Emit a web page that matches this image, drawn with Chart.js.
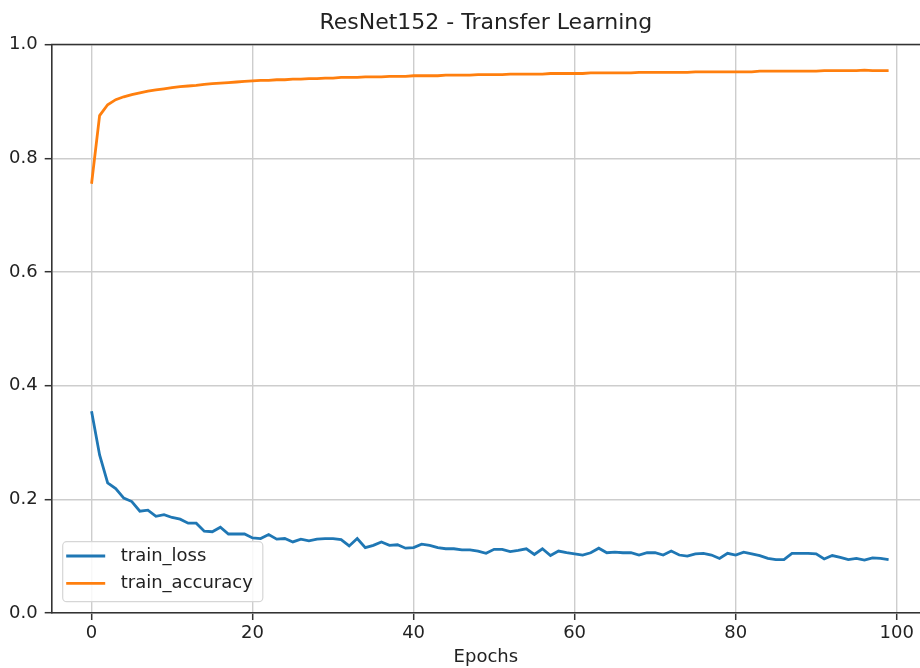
<!DOCTYPE html>
<html lang="en">
<head>
<meta charset="UTF-8">
<title>ResNet152 - Transfer Learning</title>
<style>
  html, body { margin: 0; padding: 0; background: #fff; }
  #wrap { width: 920px; height: 668px; }
</style>
</head>
<body>
<div id="wrap"><canvas id="chart" width="920" height="668"></canvas></div>
<script src="https://cdn.jsdelivr.net/npm/chart.js@4.4.1/dist/chart.umd.min.js"></script>
<script>
// values
var chartTitle = "ResNet152 - Transfer Learning";
var xTitle = "Epochs";
var xTicks = [0, 20, 40, 60, 80, 100];
var yTicks = [0.0, 0.2, 0.4, 0.6, 0.8, 1.0];

var trainLoss = [
  0.355, 0.278, 0.229, 0.219, 0.202, 0.196, 0.179, 0.181, 0.170, 0.173,
  0.168, 0.165, 0.158, 0.158, 0.144, 0.143, 0.151, 0.139, 0.139, 0.139,
  0.132, 0.131, 0.138, 0.130, 0.131, 0.125, 0.130, 0.127, 0.130, 0.131,
  0.131, 0.129, 0.118, 0.131, 0.115, 0.119, 0.125, 0.119, 0.120, 0.114,
  0.115, 0.121, 0.119, 0.115, 0.113, 0.113, 0.111, 0.111, 0.109, 0.105,
  0.112, 0.112, 0.108, 0.110, 0.113, 0.103, 0.113, 0.101, 0.109, 0.106,
  0.104, 0.102, 0.106, 0.114, 0.106, 0.107, 0.106, 0.106, 0.102, 0.106,
  0.106, 0.102, 0.109, 0.102, 0.100, 0.104, 0.105, 0.102, 0.096, 0.105,
  0.102, 0.107, 0.104, 0.101, 0.096, 0.094, 0.094, 0.105, 0.105, 0.105,
  0.104, 0.095, 0.101, 0.098, 0.094, 0.096, 0.093, 0.097, 0.096, 0.094
];

var trainAccuracy = [
  0.755, 0.875, 0.894, 0.903, 0.908, 0.912, 0.915, 0.918, 0.920, 0.922,
  0.924, 0.926, 0.927, 0.928, 0.930, 0.931, 0.932, 0.933, 0.934, 0.935,
  0.936, 0.937, 0.937, 0.938, 0.938, 0.939, 0.939, 0.940, 0.940, 0.941,
  0.941, 0.942, 0.942, 0.942, 0.943, 0.943, 0.943, 0.944, 0.944, 0.944,
  0.945, 0.945, 0.945, 0.945, 0.946, 0.946, 0.946, 0.946, 0.947, 0.947,
  0.947, 0.947, 0.948, 0.948, 0.948, 0.948, 0.948, 0.949, 0.949, 0.949,
  0.949, 0.949, 0.950, 0.950, 0.950, 0.950, 0.950, 0.950, 0.951, 0.951,
  0.951, 0.951, 0.951, 0.951, 0.951, 0.952, 0.952, 0.952, 0.952, 0.952,
  0.952, 0.952, 0.952, 0.953, 0.953, 0.953, 0.953, 0.953, 0.953, 0.953,
  0.953, 0.954, 0.954, 0.954, 0.954, 0.954, 0.955, 0.954, 0.954, 0.954
];

var epochs = trainLoss.map(function (v, i) { return i; });

var FONT = "'DejaVu Sans', sans-serif";
var textColor = "#222";
var spineColor = "#333";
var gridColor = "#cdcdcd";

function toPoints(values) {
  return values.map(function (v, i) { return { x: epochs[i], y: v }; });
}

// matplotlib-ish top spine
var topSpine = {
  id: "topSpine",
  afterDraw: function (chart) {
    var a = chart.chartArea, ctx = chart.ctx;
    ctx.save();
    ctx.strokeStyle = spineColor;
    ctx.lineWidth = 1.6;
    ctx.beginPath();
    ctx.moveTo(a.left - 0.8, a.top);
    ctx.lineTo(a.right, a.top);
    ctx.stroke();
    ctx.restore();
  }
};

// legend box inside the plot, lower left
var innerLegend = {
  id: "innerLegend",
  afterDraw: function (chart) {
    var a = chart.chartArea, ctx = chart.ctx;
    var sets = chart.data.datasets;
    ctx.save();
    ctx.font = "18px " + FONT;
    var maxW = 0;
    sets.forEach(function (d) { maxW = Math.max(maxW, ctx.measureText(d.label).width); });
    var bx = a.left + 11, bw = 58 + maxW + 10, bh = 60;
    var by = a.bottom - 11.3 - bh;
    ctx.beginPath();
    ctx.roundRect(bx, by, bw, bh, 4);
    ctx.fillStyle = "rgba(255,255,255,0.85)";
    ctx.fill();
    ctx.strokeStyle = "#d6d6d6";
    ctx.lineWidth = 1.2;
    ctx.stroke();
    sets.forEach(function (d, i) {
      var y = by + 14.3 + i * 27.3;
      ctx.strokeStyle = d.borderColor;
      ctx.lineWidth = 2.8;
      ctx.beginPath();
      ctx.moveTo(bx + 3.5, y);
      ctx.lineTo(bx + 42.5, y);
      ctx.stroke();
      ctx.fillStyle = textColor;
      ctx.textBaseline = "middle";
      ctx.textAlign = "left";
      ctx.fillText(d.label, bx + 58, y);
    });
    ctx.restore();
  }
};

new Chart(document.getElementById("chart"), {
  type: "line",
  data: {
    datasets: [{
      label: "train_loss",
      data: toPoints(trainLoss),
      borderColor: "#1f77b4",
      borderWidth: 2.8,
      pointRadius: 0,
      tension: 0,
      fill: false
    }, {
      label: "train_accuracy",
      data: toPoints(trainAccuracy),
      borderColor: "#ff7f0e",
      borderWidth: 2.8,
      pointRadius: 0,
      tension: 0,
      fill: false
    }]
  },
  options: {
    responsive: false,
    animation: false,
    devicePixelRatio: 1,
    layout: { padding: 0 },
    plugins: {
      legend: { display: false },
      tooltip: { enabled: false },
      title: {
        display: true,
        text: chartTitle,
        fullSize: false,
        color: textColor,
        font: { family: FONT, size: 22, weight: "normal", lineHeight: 1.2 },
        padding: { top: 10.5, bottom: 7.6 }
      }
    },
    scales: {
      x: {
        type: "linear",
        min: -4.95,
        max: 102.9,
        afterBuildTicks: function (s) {
          s.ticks = xTicks.map(function (v) { return { value: v }; });
        },
        afterFit: function (s) { s.height = 55; },
        ticks: {
          color: textColor,
          font: { family: FONT, size: 18 },
          padding: 3,
          maxRotation: 0,
          autoSkip: false,
          callback: function (v) { return String(v); }
        },
        grid: { color: gridColor, lineWidth: 1.4, tickLength: 7, tickColor: spineColor, tickWidth: 1.5 },
        border: { color: spineColor, width: 1.6 },
        title: {
          display: true,
          text: xTitle,
          color: textColor,
          font: { family: FONT, size: 18 },
          padding: { top: 0, bottom: 0 }
        }
      },
      y: {
        min: 0,
        max: 1,
        afterBuildTicks: function (s) {
          s.ticks = yTicks.map(function (v) { return { value: v }; });
        },
        afterFit: function (s) { s.width = 51.7; },
        ticks: {
          color: textColor,
          font: { family: FONT, size: 18 },
          padding: 7,
          callback: function (v) { return Number(v).toFixed(1); }
        },
        grid: { color: gridColor, lineWidth: 1.4, tickLength: 7, tickColor: spineColor, tickWidth: 1.5 },
        border: { color: spineColor, width: 1.6 }
      }
    }
  },
  plugins: [topSpine, innerLegend]
});
</script>
</body>
</html>
